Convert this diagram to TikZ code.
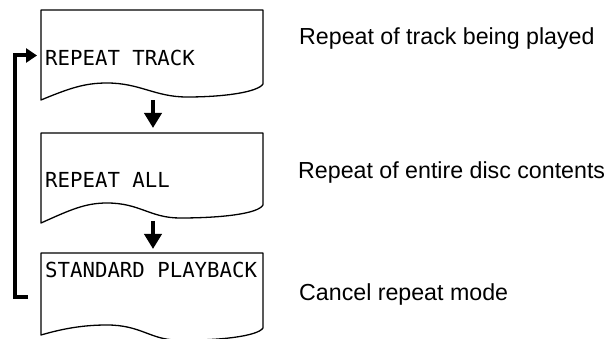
\documentclass[tikz,border=0pt]{standalone}
\usepackage{fontspec}
\setmainfont{Liberation Sans}
\newfontfamily\lcdfont{DejaVu Sans Mono}
\usetikzlibrary{arrows.meta}
\begin{document}
\begin{tikzpicture}[x=1pt,y=-1pt,
  panel/.style={draw=black,line width=1.3pt,line join=round},
  lcd/.style={anchor=west,inner sep=0pt,font=\lcdfont\fontsize{20.7}{24}\selectfont},
  desc/.style={anchor=base west,inner sep=0pt,font=\fontsize{23.2}{27}\selectfont},
  flow/.style={line width=4pt,-{Triangle[width=17pt,length=15pt]}},
  loopline/.style={line width=4pt,line join=miter,-{Triangle[width=14pt,length=11pt]}}]
\useasboundingbox (0,0) rectangle (611,339);
\clip (0,0) rectangle (611,339);
% panels
\draw[panel] (41,10) -- (41,100) .. controls (70,88) and (85,83) .. (107,83)
  .. controls (140,83) and (155,97) .. (187,97)
  .. controls (225,97) and (258,92) .. (263,84) -- (263,10) -- cycle;
\draw[panel] (41,133) -- (41,223) .. controls (70,210) and (85,203) .. (107,203)
  .. controls (140,203) and (150,218) .. (180,218)
  .. controls (220,218) and (258,214) .. (263,205) -- (263,133) -- cycle;
\draw[panel] (41,253) -- (41,335) .. controls (65,328) and (85,325) .. (107,325)
  .. controls (140,325) and (150,339) .. (175,340)
  .. controls (220,341) and (258,336) .. (263,328) -- (263,253) -- cycle;
% texts
\node[lcd] (t1) at (45,58) {REPEAT TRACK};
\node[lcd] (t2) at (45,180) {REPEAT ALL};
\node[lcd] (t3) at (45,270) {STANDARD PLAYBACK};
\node[desc] (d1) at (299,45) {Repeat of track being played};
\node[desc] (d2) at (298,179) {Repeat of entire disc contents};
\node[desc] (d3) at (299,301) {Cancel repeat mode};
% arrows
\coordinate (a1s) at (153,100);
\coordinate (a1e) at (153,128);
\coordinate (a2s) at (153,221);
\coordinate (a2e) at (153,249);
\draw[flow] (a1s) -- (a1e);
\draw[flow] (a2s) -- (a2e);
\coordinate (lb) at (28,297.5);
\coordinate (lt) at (37,55.5);
\draw[loopline] (lb) -- (14.5,297.5) -- (14.5,55.5) -- (lt);
\end{tikzpicture}
\end{document}
